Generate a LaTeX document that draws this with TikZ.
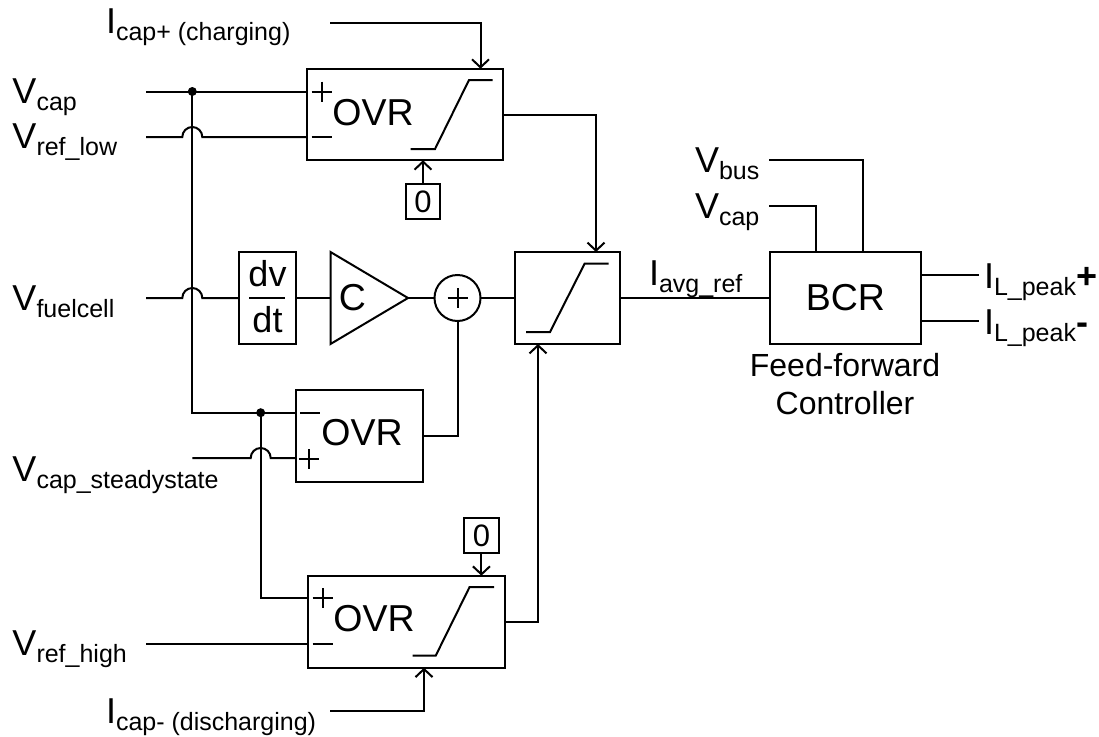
\documentclass[tikz,border=0pt]{standalone}
\usepackage{fontspec}
\setmainfont{Liberation Sans}
\usetikzlibrary{positioning, arrows.meta, calc, shapes.geometric}
\newcommand{\sublabel}[2]{#1\raisebox{-7pt}{\fontsize{25}{25}\selectfont #2}}

\begin{document}
\begin{tikzpicture}[
  x=1pt, y=-1pt,
  wire/.style={line width=2pt, black},
  arr/.style={wire, -{Straight Barb[length=8pt,width=17pt,line width=2pt]}},
  box/.style={draw, line width=2pt, inner sep=0pt, outer sep=0pt},
  big/.style={inner sep=0pt, outer sep=0pt, font=\fontsize{37.5}{37.5}\selectfont},
  lbl/.style={anchor=base west, inner sep=0pt, outer sep=0pt, font=\fontsize{36}{36}\selectfont},
  captext/.style={inner sep=0pt, outer sep=0pt, align=center, font=\fontsize{32}{38}\selectfont},
  zero/.style={box, minimum width=34.5pt, minimum height=34.5pt, font=\fontsize{31}{31}\selectfont},
  dot/.style={circle, fill=black, inner sep=0pt, minimum size=9pt},
  gain/.style={draw, line width=2pt, isosceles triangle, isosceles triangle stretches,
               minimum width=92pt, minimum height=77.5pt, inner sep=0pt, outer sep=0pt, anchor=lower side}
]
\useasboundingbox (0,0) rectangle (1099,736);

\node[lbl] (vcapA) at (12.5,103) {\sublabel{V}{cap}};
\node[lbl] (vreflow) at (12.5,148.5) {\sublabel{V}{ref\_low}};
\node[lbl] (vfuel) at (12.5,310) {\sublabel{V}{fuelcell}};
\node[lbl] (vss) at (12.5,481.5) {\sublabel{V}{cap\_steadystate}};
\node[lbl] (vrefhigh) at (12.5,655) {\sublabel{V}{ref\_high}};
\node[lbl] (icapp) at (106,33) {\sublabel{I}{cap+ (charging)}};
\node[lbl] (icapm) at (106,723) {\sublabel{I}{cap- (discharging)}};
\node[lbl] (vbus) at (695,172.5) {\sublabel{V}{bus}};
\node[lbl] (vcapB) at (695,218.5) {\sublabel{V}{cap}};
\node[lbl] (iavg) at (649,285) {\sublabel{I}{avg\_ref}};
\node[lbl] (ipeakp) at (984,288) {\sublabel{I}{L\_peak}\textbf{+}};
\node[lbl] (ipeakm) at (984,334) {\sublabel{I}{L\_peak}\textbf{-}};

\node[box, minimum width=196pt, minimum height=91.6pt] (ovrA) at (405.3,114.5) {};
\node[box, minimum width=127.3pt, minimum height=91.7pt] (ovrB) at (359.4,435.9) {};
\node[box, minimum width=196.6pt, minimum height=92pt] (ovrC) at (406.3,621.7) {};
\node[big] (ovrAtext) at (373,112.5) {OVR};
\node[big] (ovrBtext) at (362,433) {OVR};
\node[big] (ovrCtext) at (374,619) {OVR};
\node[zero] (zeroA) at (423,201.7) {0};
\node[zero] (zeroC) at (481.4,535.5) {0};
\node[box, minimum width=57pt, minimum height=92pt] (dvdt) at (267.5,298) {};
\node[anchor=base, inner sep=0pt, font=\fontsize{36}{36}\selectfont] (dv) at (267.5,286.5) {dv};
\node[anchor=base, inner sep=0pt, font=\fontsize{36}{36}\selectfont] (dt) at (267.5,332) {dt};
\node[gain] (gainC) at (330.5,298) {};
\node[big] (gainCtext) at (352.5,297.5) {C};
\node[box, circle, minimum size=46pt] (sum) at (457.5,298) {};
\node[box, minimum width=105pt, minimum height=92pt] (sat) at (567,298) {};
\node[box, big, minimum width=150.8pt, minimum height=92pt] (bcr) at (845.4,298) {BCR};
\node[captext] (bcrcap) at (845,384) {Feed-forward\\Controller};

\coordinate (vcapIn) at (146,91.5);
\coordinate (vrefIn) at (146,137);
\coordinate (vfuelIn) at (146,298);
\coordinate (vssIn) at (192.3,458);
\coordinate (vhighIn) at (146,644);
\coordinate (icappIn) at (330,23);
\coordinate (icapmIn) at (330,710.7);
\coordinate (vbusIn) at (769,160.3);
\coordinate (vcapBIn) at (769,206.3);
\coordinate (ipeakpOut) at (979,275);
\coordinate (ipeakmOut) at (979,321);
\coordinate (satTop) at (596,252);
\coordinate (satBot) at (538,344);
\node[dot] (dotA) at (192.3,91.5) {};
\node[dot] (dotB) at (260.7,412.7) {};

\draw[wire] (vcapIn) -- (ovrA.west |- vcapIn);
\draw[wire] (vrefIn) -- (182.3,137) arc[start angle=180, end angle=0, radius=10pt] -- (ovrA.west |- vrefIn);
\draw[wire] (vfuelIn) -- (182.3,298) arc[start angle=180, end angle=0, radius=10pt] -- (dvdt.west);
\draw[wire] (dotA.center) |- (dotB.center);
\draw[wire] (dotB.center) -- (ovrB.west |- dotB);
\draw[wire] (vssIn) -- (250.7,458) arc[start angle=180, end angle=0, radius=10pt] -- (ovrB.west |- vssIn);
\draw[wire] (dotB.center) |- (ovrC.west |- 0,598);
\draw[wire] (vhighIn) -- (ovrC.west |- vhighIn);
\draw[wire] (dvdt.east) -- (gainC.lower side);
\draw[wire] (gainC.apex) -- (sum.west);
\draw[wire] (sum.east) -- (sat.west);
\draw[wire] (ovrB.east) -| (sum.south);
\draw[wire] (sat.east) -- (bcr.west);
\draw[wire] (vcapBIn) -| (bcr.north -| 816,0);
\draw[wire] (vbusIn) -| (bcr.north -| 862.7,0);
\draw[wire] (bcr.east |- ipeakpOut) -- (ipeakpOut);
\draw[wire] (bcr.east |- ipeakmOut) -- (ipeakmOut);
\draw[arr] (icappIn) -| (ovrA.north -| 480.5,0);
\draw[arr] (zeroA) -- (ovrA.south -| zeroA);
\draw[arr] (zeroC) -- (ovrC.north -| zeroC);
\draw[arr] (icapmIn) -| (ovrC.south -| 424,0);
\draw[arr] (ovrA.east) -| (satTop);
\draw[arr] (ovrC.east) -| (satBot);

\draw[wire] (410.7,149) -- (435,149) -- (469,80) -- (492.7,80);
\draw[wire] (412.5,655.7) -- (435.7,655.7) -- (469.6,587) -- (494,587);
\draw[wire] (526,332) -- (550,332) -- (584.6,263.7) -- (608.5,263.7);
\draw[wire] (249,298) -- (285,298);
\foreach \p in {(321.5,91.5),(309,459),(322.5,598),(457.5,298)}
  \draw[wire] \p ++(-10,0) -- ++(20,0) \p ++(0,-10) -- ++(0,20);
\foreach \p in {(311.5,137),(300,412.7),(312.5,644)}
  \draw[wire] \p -- ++(20,0);
\end{tikzpicture}
\end{document}
